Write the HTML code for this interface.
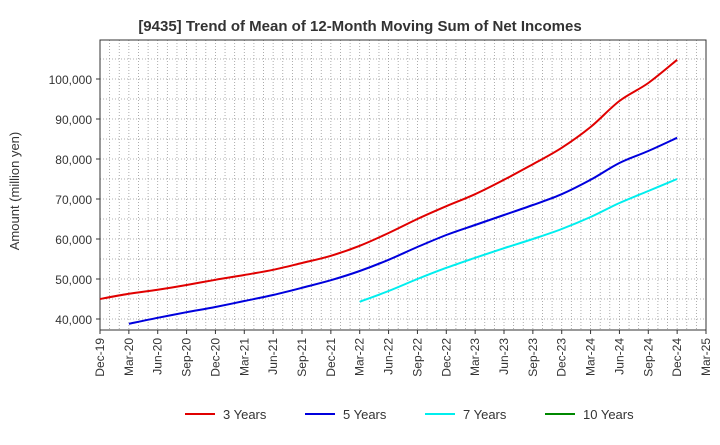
<!DOCTYPE html>
<html><head><meta charset="utf-8"><style>
body{margin:0;background:#fff;font-family:"Liberation Sans",sans-serif}
</style></head><body>
<svg id="c" width="720" height="440" xmlns="http://www.w3.org/2000/svg">
<text x="360" y="31" text-anchor="middle" font-size="15" font-weight="bold" fill="#333">[9435]  Trend of Mean of 12-Month Moving Sum of Net Incomes</text>
<text transform="translate(19,191) rotate(-90)" text-anchor="middle" font-size="13" fill="#333">Amount (million yen)</text>
<g id="grid"></g><g id="axes"></g><g id="series"></g><g id="legend"></g>
</svg>
<script>
const xLabels=["Dec-19","Mar-20","Jun-20","Sep-20","Dec-20","Mar-21","Jun-21","Sep-21","Dec-21","Mar-22","Jun-22","Sep-22","Dec-22","Mar-23","Jun-23","Sep-23","Dec-23","Mar-24","Jun-24","Sep-24","Dec-24","Mar-25"];
const yTicks=[40000,50000,60000,70000,80000,90000,100000];
const s3=[45000,46300,47300,48500,49800,51000,52300,54000,55800,58300,61500,65000,68200,71200,74800,78700,82800,88000,94500,99000,104800];
const s5=[null,38800,40300,41700,43000,44500,46000,47800,49700,52000,54800,58000,61000,63500,66000,68500,71200,74800,79000,82000,85300];
const s7=[null,null,null,null,null,null,null,null,null,44300,47000,50000,52800,55300,57700,60000,62500,65500,69000,72000,75000];
const s10=[];
const L=100,R=706,T=40,B=330;
const X=i=>L+i*(R-L)/21;
const Y=v=>319-(v-40000)*0.004;
const NS="http://www.w3.org/2000/svg";
function mk(t,a,p){const e=document.createElementNS(NS,t);for(const k in a)e.setAttribute(k,a[k]);p.appendChild(e);return e;}
const g=document.getElementById('grid'),ax=document.getElementById('axes'),sg=document.getElementById('series'),lg=document.getElementById('legend');
for(let m=1;m<63;m++){const x=L+m*(R-L)/63;const l=mk('line',{x1:x,x2:x,y1:T,y2:B,stroke:'#999','stroke-dasharray':'1,2','stroke-width':0.8},g);

}
for(let v=40000;v<=105000;v+=5000){const y=Y(v);const l=mk('line',{x1:L,x2:R,y1:y,y2:y,stroke:'#999','stroke-dasharray':'1,2','stroke-width':0.8},g);

}
const fr=mk('rect',{x:L,y:T,width:R-L,height:B-T,fill:'none',stroke:'#333'},ax);


yTicks.forEach(v=>{const t=mk('text',{x:L-8,y:Y(v)+5,'text-anchor':'end','font-size':12,fill:'#333'},ax);t.textContent=v.toLocaleString('en-US');


mk('line',{x1:L-4,x2:L,y1:Y(v),y2:Y(v),stroke:'#333'},ax);});
xLabels.forEach((s,i)=>{const x=X(i);mk('line',{x1:x,x2:x,y1:B,y2:B+4,stroke:'#333'},ax);
const t=mk('text',{transform:`translate(${x+4},${B+8}) rotate(-90)`,'text-anchor':'end','font-size':12,fill:'#333'},ax);t.textContent=s;

});
function line(d,c,n){const pts=[];d.forEach((v,i)=>{if(v!=null)pts.push([X(i),Y(v)]);});
if(pts.length<2)return;let p='M'+pts[0][0].toFixed(1)+','+pts[0][1].toFixed(1);
for(let i=0;i<pts.length-1;i++){const p0=pts[Math.max(0,i-1)],p1=pts[i],p2=pts[i+1],p3=pts[Math.min(pts.length-1,i+2)];
const c1x=p1[0]+(p2[0]-p0[0])/6,c1y=p1[1]+(p2[1]-p0[1])/6,c2x=p2[0]-(p3[0]-p1[0])/6,c2y=p2[1]-(p3[1]-p1[1])/6;
p+=`C${c1x.toFixed(1)},${c1y.toFixed(1)} ${c2x.toFixed(1)},${c2y.toFixed(1)} ${p2[0].toFixed(1)},${p2[1].toFixed(1)}`;}
const e=mk('path',{d:p,fill:'none',stroke:c,'stroke-width':2,'stroke-linejoin':'round'},sg);

}
line(s3,'#e00000','series-3-years');line(s5,'#0000dd','series-5-years');line(s7,'#00eeee','series-7-years');line(s10,'#008800','series-10-years');
[['3 Years','#e00000',185],['5 Years','#0000dd',305],['7 Years','#00eeee',425],['10 Years','#008800',545]].forEach(([n,c,x])=>{
const gg=mk('g',{},lg);

mk('line',{x1:x,x2:x+30,y1:414,y2:414,stroke:c,'stroke-width':2},gg);
const t=mk('text',{x:x+38,y:419,'font-size':13,fill:'#333'},gg);t.textContent=n;});
</script>
</body></html>
